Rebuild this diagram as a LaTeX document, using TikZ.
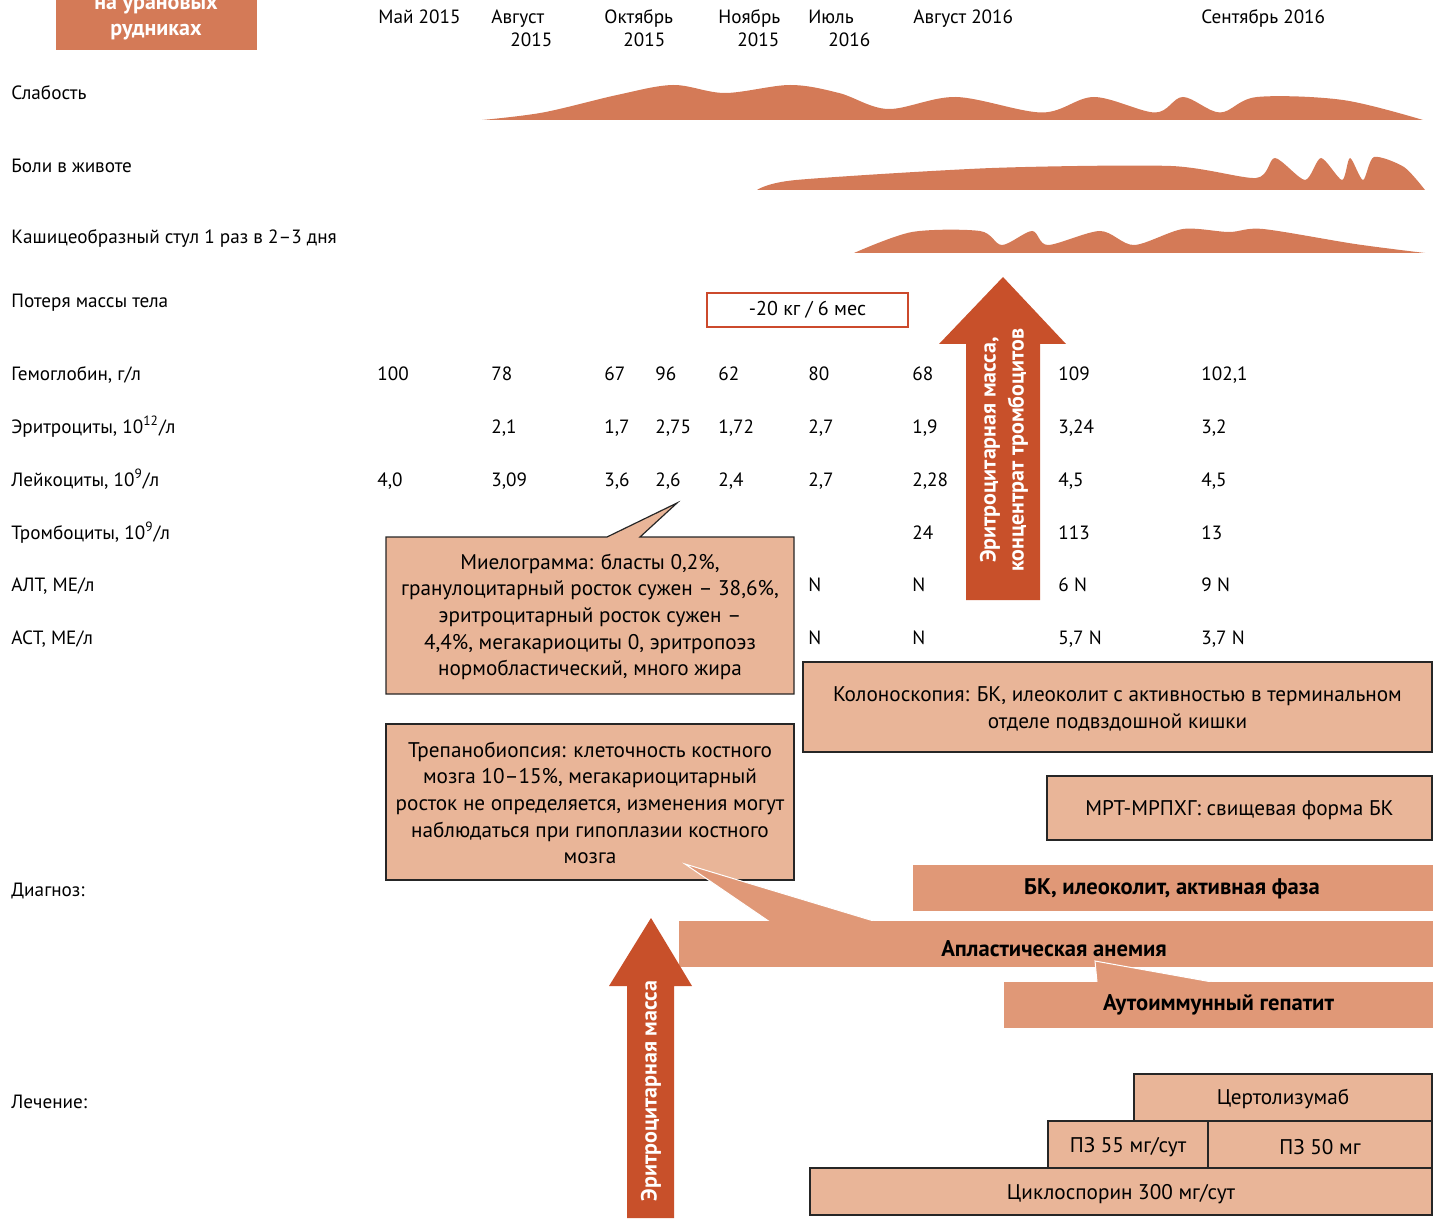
\documentclass[tikz,border=0pt]{standalone}
\usepackage{fontspec}
\setmainfont{PT Sans}
\definecolor{rust}{HTML}{D47A57}
\definecolor{arrowred}{HTML}{C8502A}
\definecolor{peach}{HTML}{E9B598}
\definecolor{barfill}{HTML}{E09877}
\definecolor{lossred}{HTML}{CC4A2C}
\begin{document}
\begin{tikzpicture}[x=0.5pt,y=-0.5pt,
			lbl/.style={anchor=base west,inner sep=0pt,font=\fontsize{9.6pt}{11.5pt}\selectfont},
			val/.style={lbl},
			box/.style={fill=peach,draw=black!85,line width=0.6pt},
			bar/.style={fill=barfill},
			boxtext/.style={align=center,inner sep=0pt,font=\fontsize{10.6pt}{13.35pt}\selectfont},
			bartext/.style={inner sep=0pt,font=\fontsize{11.3pt}{13pt}\selectfont\bfseries},
			wave/.style={fill=rust},
			bigarrow/.style={fill=arrowred},
			arrowtext/.style={rotate=90,align=center,inner sep=0pt,text=white,font=\fontsize{11pt}{14pt}\selectfont\bfseries}]
			\useasboundingbox (0,0) rectangle (1433,1219);
			% heading box, cut by the top edge
			\fill[rust] (56,-30) rectangle (257,50);
			\node (uran1) [anchor=base,inner sep=0pt,text=white,font=\fontsize{11pt}{13pt}\selectfont\bfseries] at (156,10) {на урановых};
			\node (uran2) [anchor=base,inner sep=0pt,text=white,font=\fontsize{11pt}{13pt}\selectfont\bfseries] at (156,36) {рудниках};

			% time axis
			\node (may15) [lbl] at (378,24) {Май 2015};
			\node (aug15) [lbl] at (491,24) {Август};
			\node (aug15y) [lbl] at (510,47) {2015};
			\node (oct15) [lbl] at (604,24) {Октябрь};
			\node (oct15y) [lbl] at (623,47) {2015};
			\node (nov15) [lbl] at (718,24) {Ноябрь};
			\node (nov15y) [lbl] at (737,47) {2015};
			\node (jul16) [lbl] at (808,24) {Июль};
			\node (jul16y) [lbl] at (828,47) {2016};
			\node (aug16) [lbl] at (913,24) {Август 2016};
			\node (sep16) [lbl] at (1201,24) {Сентябрь 2016};

			% row titles
			\node (weak) [lbl] at (11,100) {Слабость};
			\node (pain) [lbl] at (11,173) {Боли в животе};
			\node (stool) [lbl] at (11,244) {Кашицеобразный стул 1 раз в 2–3 дня};
			\node (loss) [lbl] at (11,307) {Потеря массы тела};
			\node (hb) [lbl] at (11,380) {Гемоглобин, г/л};
			\node (rbc) [lbl] at (11,433) {Эритроциты, 10\textsuperscript{12}/л};
			\node (wbc) [lbl] at (11,486) {Лейкоциты, 10\textsuperscript{9}/л};
			\node (plt) [lbl] at (11,539) {Тромбоциты, 10\textsuperscript{9}/л};
			\node (alt) [lbl] at (11,591) {АЛТ, МЕ/л};
			\node (ast) [lbl] at (11,644) {АСТ, МЕ/л};
			\node (diag) [lbl] at (11,896) {Диагноз:};
			\node (treat) [lbl] at (11,1108) {Лечение:};

			% symptoms
			\fill[wave] plot[smooth,tension=0.55] coordinates {(482,120) (543,112.5) (617,95) (673,85) (725,93) (790,85) (839,93) (888,109) (956,97) (1042,112.5) (1094,97) (1155,112.5) (1183,97) (1220,112.5) (1257,97) (1343,100) (1423,120)} -- cycle;
			\fill[wave] plot[smooth,tension=0.45] coordinates {(757,190) (796,180) (992,168) (1171,166) (1256,178) (1275,158) (1305,180) (1321,158) (1342,180) (1350,158) (1363,180) (1374,157) (1404,167) (1425,190)} -- cycle;
			\fill[wave] plot[smooth,tension=0.5] coordinates {(854,253) (912,232) (980,231) (1002,245) (1032,231) (1048,245) (1100,231) (1134,245) (1183,229) (1229,232) (1263,229) (1355,244) (1425,253)} -- cycle;
			\node (kg) [draw=lossred,line width=1pt,minimum width=100.5pt,minimum height=17pt,inner sep=0pt,font=\fontsize{10pt}{12pt}\selectfont] at (807.5,310) {-20 кг / 6 мес};

			% blood values
			\node (hb1) [val] at (377,380) {100};
			\node (hb2) [val] at (491,380) {78};
			\node (hb3) [val] at (604,380) {67};
			\node (hb4) [val] at (655,380) {96};
			\node (hb5) [val] at (718,380) {62};
			\node (hb6) [val] at (808,380) {80};
			\node (hb7) [val] at (912,380) {68};
			\node (hb8) [val] at (1058,380) {109};
			\node (hb9) [val] at (1201,380) {102,1};
			\node (rbc2) [val] at (491,433) {2,1};
			\node (rbc3) [val] at (604,433) {1,7};
			\node (rbc4) [val] at (655,433) {2,75};
			\node (rbc5) [val] at (718,433) {1,72};
			\node (rbc6) [val] at (808,433) {2,7};
			\node (rbc7) [val] at (912,433) {1,9};
			\node (rbc8) [val] at (1058,433) {3,24};
			\node (rbc9) [val] at (1201,433) {3,2};
			\node (wbc1) [val] at (377,486) {4,0};
			\node (wbc2) [val] at (491,486) {3,09};
			\node (wbc3) [val] at (604,486) {3,6};
			\node (wbc4) [val] at (655,486) {2,6};
			\node (wbc5) [val] at (718,486) {2,4};
			\node (wbc6) [val] at (808,486) {2,7};
			\node (wbc7) [val] at (912,486) {2,28};
			\node (wbc8) [val] at (1058,486) {4,5};
			\node (wbc9) [val] at (1201,486) {4,5};
			\node (plt7) [val] at (912,539) {24};
			\node (plt8) [val] at (1058,539) {113};
			\node (plt9) [val] at (1201,539) {13};
			\node (alt6) [val] at (808,591) {N};
			\node (alt7) [val] at (912,591) {N};
			\node (alt8) [val] at (1058,591) {6 N};
			\node (alt9) [val] at (1201,591) {9 N};
			\node (ast6) [val] at (808,644) {N};
			\node (ast7) [val] at (912,644) {N};
			\node (ast8) [val] at (1058,644) {5,7 N};
			\node (ast9) [val] at (1201,644) {3,7 N};

			% transfusion in 2016
			\fill[bigarrow] (966,600) -- (966,344) -- (939,344) -- (1003,277) -- (1066,344) -- (1040,344) -- (1040,600) -- cycle;
			\node (trans1) [arrowtext] at (1004,450) {Эритроцитарная масса,\\концентрат тромбоцитов};

			% findings
			\draw[box] (386,537) -- (607,537) -- (677,503) -- (640,537) -- (794,537) -- (794,694) -- (386,694) -- cycle;
			\node (myelo) [boxtext] at (590,617) {Миелограмма: бласты 0,2\%,\\гранулоцитарный росток сужен – 38,6\%,\\эритроцитарный росток сужен –\\4,4\%, мегакариоциты 0, эритропоэз\\нормобластический, много жира};
			\draw[box] (386,724) rectangle (794,880);
			\node (trepan) [boxtext] at (590,803) {Трепанобиопсия: клеточность костного\\мозга 10–15\%, мегакариоцитарный\\росток не определяется, изменения могут\\наблюдаться при гипоплазии костного\\мозга};
			\draw[box] (803,662) rectangle (1432,752);
			\node (colono) [boxtext] at (1117.5,709) {Колоноскопия: БК, илеоколит с активностью в терминальном\\отделе подвздошной кишки};
			\draw[box] (1047,776) rectangle (1432,840);
			\node (mrt) [boxtext] at (1239.5,810) {МРТ-МРПХГ: свищевая форма БК};

			% diagnoses
			\fill[bar] (685,864) -- (770,922) -- (877,922) -- cycle;
			\draw[white,line width=0.5pt] (770,922) -- (685,864) -- (877,922);
			\fill[bar] (913,865) rectangle (1433,911);
			\node (crohn) [bartext] at (1172,889) {БК, илеоколит, активная фаза};
			\fill[bar] (679,921) rectangle (1433,967);
			\node (aplast) [bartext] at (1054,949) {Апластическая анемия};
			\fill[bar] (1095,961) -- (1097,982) -- (1212,982) -- cycle;
			\draw[white,line width=0.5pt] (1097,982) -- (1095,961) -- (1212,982);
			\fill[bar] (1004,982) rectangle (1433,1028);
			\node (hepat) [bartext] at (1218.5,1005) {Аутоиммунный гепатит};

			% therapy
			\draw[box] (1134,1074) rectangle (1432,1121);
			\node (certo) [boxtext] at (1283,1099) {Цертолизумаб};
			\draw[box] (1048,1121) rectangle (1208,1168);
			\node (pz55) [boxtext] at (1128,1147) {ПЗ 55 мг/сут};
			\draw[box] (1208,1121) rectangle (1432,1168);
			\node (pz50) [boxtext] at (1320,1147) {ПЗ 50 мг};
			\draw[box] (810,1168) rectangle (1432,1215);
			\node (cyclo) [boxtext] at (1121,1194) {Циклоспорин 300 мг/сут};

			% transfusion in 2015
			\fill[bigarrow] (627,1218) -- (627,986) -- (609,986) -- (651,918) -- (692,986) -- (674,986) -- (674,1218) -- cycle;
			\node (trans2) [arrowtext] at (651,1091) {Эритроцитарная масса};
		\end{tikzpicture}
\end{document}
